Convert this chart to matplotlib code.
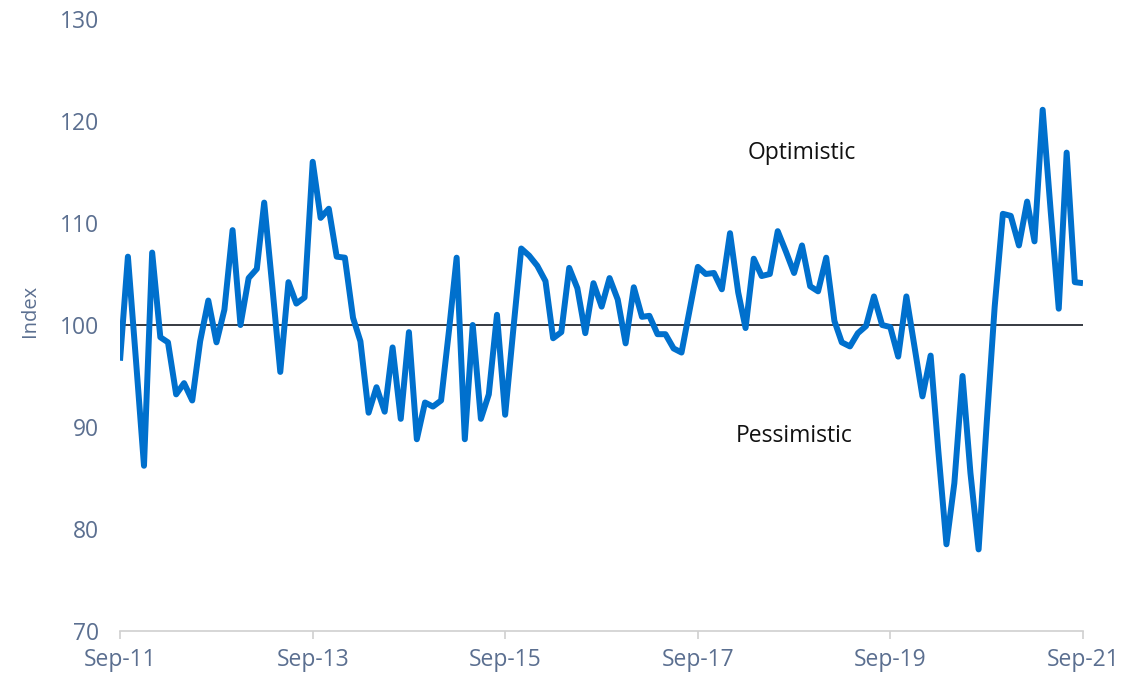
import numpy as np
import pandas as pd
import matplotlib
matplotlib.use("Agg")
import matplotlib.pyplot as plt

# monthly index, Sep-11 .. Sep-21
index_values = [
    96.5, 106.7, 96.4, 86.2, 107.1, 98.8, 98.3, 93.2, 94.3, 92.6,
    98.4, 102.4, 98.3, 101.5, 109.3, 100.0, 104.6, 105.5, 112.0, 103.7,
    95.4, 104.2, 102.1, 102.7, 116.0, 110.5, 111.4, 106.7, 106.6, 100.7,
    98.4, 91.4, 93.9, 91.5, 97.8, 90.8, 99.3, 88.8, 92.4, 92.0,
    92.6, 99.7, 106.6, 88.8, 100.0, 90.8, 93.2, 101.0, 91.2, 99.3,
    107.5, 106.8, 105.8, 104.3, 98.7, 99.3, 105.6, 103.6, 99.2, 104.1,
    101.8, 104.6, 102.5, 98.2, 103.7, 100.8, 100.9, 99.1, 99.1, 97.7,
    97.3, 101.5, 105.7, 105.0, 105.1, 103.5, 109.0, 103.2, 99.7, 106.5,
    104.8, 105.0, 109.2, 107.2, 105.1, 107.8, 103.8, 103.3, 106.6, 100.4,
    98.3, 97.9, 99.2, 99.9, 102.8, 100.0, 99.8, 96.9, 102.8, 98.0,
    93.0, 97.0, 87.7, 78.5, 84.5, 95.0, 85.5, 78.0, 90.5, 101.8,
    110.9, 110.7, 107.8, 112.1, 108.2, 121.1, 111.3, 101.6, 116.9, 104.2,
    104.1,
]
dates = pd.date_range("2011-09-01", periods=len(index_values), freq="MS")
tick_dates = pd.date_range("2011-09-01", "2021-09-01", freq="24MS")
tick_labels = [d.strftime("%b-%y") for d in tick_dates]
y_ticks = [70, 80, 90, 100, 110, 120, 130]

label_col = "#5b6f90"
plt.rcParams["font.family"] = ["Open Sans", "DejaVu Sans"]

fig = plt.figure(figsize=(11.46, 6.79), dpi=100)
ax = fig.add_axes([120 / 1146, 48 / 679, 963 / 1146, 612 / 679])

ax.axhline(100, color="#262b33", lw=1.3, zorder=1)
ax.plot(dates, index_values, color="#0070cd", lw=4.3, solid_joinstyle="round",
        solid_capstyle="butt", zorder=2)

ax.set_xlim(dates[0], dates[-1])
ax.set_ylim(70, 130)
ax.set_yticks(y_ticks)
ax.set_xticks(tick_dates)
ax.set_xticklabels(tick_labels)

for s in ["top", "right", "left"]:
    ax.spines[s].set_visible(False)
ax.spines["bottom"].set_color("#d0d0d0")
ax.spines["bottom"].set_linewidth(1.2)
ax.tick_params(axis="x", colors="#d0d0d0", length=6, width=1.2, labelcolor=label_col,
               labelsize=16.5, pad=6)
ax.tick_params(axis="y", length=0, labelcolor=label_col, labelsize=16.5, pad=15)
ax.set_ylabel("Index", color=label_col, fontsize=14.5)
ax.yaxis.set_label_coords(-0.083, 0.523)

ax.text(dates[85], 116.9, "Optimistic", ha="center", va="center", fontsize=16.5, color="#111111")
ax.text(dates[84], 89.1, "Pessimistic", ha="center", va="center", fontsize=16.5, color="#111111")

fig.savefig("out.png", dpi=100)
